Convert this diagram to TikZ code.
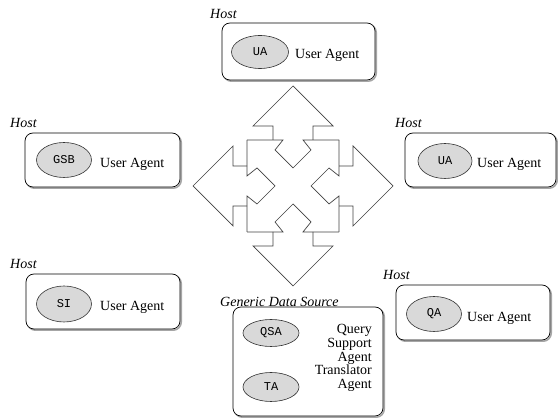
\documentclass[tikz,border=0pt]{standalone}
\usepackage{fontspec}
\usetikzlibrary{shapes.geometric}
\setmainfont{Liberation Serif}
\newfontfamily\monof{Liberation Mono}
\begin{document}
\begin{tikzpicture}[x=1pt,y=-1pt,
  hostbox/.style={draw=black,line width=0.7pt,rounded corners=8pt,fill=white},
  shadowbox/.style={draw=gray!70,line width=1.6pt,rounded corners=8pt},
  agent/.style={ellipse,draw=black!80,line width=0.6pt,fill=black!15,inner sep=0pt,font=\monof\fontsize{12}{13}\selectfont},
  lbl/.style={anchor=west,inner sep=0pt,font=\fontsize{14}{16}\selectfont},
  hostlbl/.style={anchor=west,inner sep=0pt,font=\itshape\fontsize{14}{16}\selectfont},
  arm/.style={draw=black!75,line width=0.7pt,line join=miter}]
\useasboundingbox (0,0) rectangle (558,419);
% ---- boxes with shadows
\foreach \xa/\ya/\xb/\yb in {222/23/375/80, 25/133/180/187, 405/133/556/187, 26/274/180/329, 396/285/550/340, 233/307/383/416}{
  \draw[shadowbox] (\xa+1.5,\ya+1.5) rectangle (\xb+1.2,\yb+1.2);
  \draw[hostbox] (\xa,\ya) rectangle (\xb,\yb);
}
% ---- host labels
\node[hostlbl] (h1) at (210,14) {Host};
\node[hostlbl] (h2) at (10,123) {Host};
\node[hostlbl] (h3) at (395,123) {Host};
\node[hostlbl] (h4) at (10,264) {Host};
\node[hostlbl] (h5) at (383,275) {Host};
\node[hostlbl] (gds) at (220,302) {Generic Data Source};
% ---- agents
\node[agent,minimum width=57pt,minimum height=33pt] (ua1) at (260,52) {UA};
\node[lbl] (t1) at (295,55) {User Agent};
\node[agent,minimum width=55pt,minimum height=35pt] (gsb) at (64,160) {GSB};
\node[lbl] (t2) at (100,164) {User Agent};
\node[agent,minimum width=54pt,minimum height=35pt] (ua2) at (445,161) {UA};
\node[lbl] (t3) at (477,164) {User Agent};
\node[agent,minimum width=55pt,minimum height=36pt] (si) at (64,304) {SI};
\node[lbl] (t4) at (100,307) {User Agent};
\node[agent,minimum width=55pt,minimum height=35pt] (qa) at (434,314) {QA};
\node[lbl] (t5) at (467,318) {User Agent};
\node[agent,minimum width=56pt,minimum height=27pt] (qsa) at (271,333) {QSA};
\node[agent,minimum width=56pt,minimum height=29pt] (ta) at (271,387) {TA};
\node[anchor=north east,inner sep=0pt,align=right,font=\fontsize{14}{13.8}\selectfont] (qt) at (372,324)
  {Query\\Support\\Agent\\Translator\\Agent};
% ---- central four-way arrow
\begin{scope}[shift={(293,186)}]
\foreach \a in {0,90,180,270}{
  \begin{scope}[rotate=\a]
    \draw[arm] (-20,-46) -- (-20,-60) -- (-40,-60) -- (0,-100) -- (40,-60) -- (20,-60) -- (20,-46);
    \draw[arm] (-46,-46) -- (-10,-46) -- (-18,-36) -- (0,-18) -- (18,-36) -- (10,-46) -- (46,-46);
  \end{scope}
}
\end{scope}
\end{tikzpicture}
\end{document}
